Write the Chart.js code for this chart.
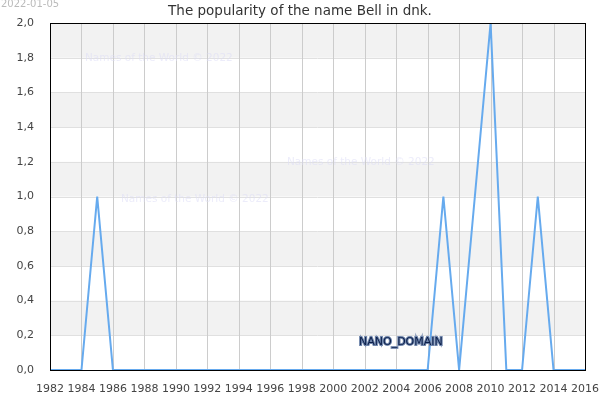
<!DOCTYPE html>
<html>
<head>
<meta charset="utf-8">
<script src="https://cdn.jsdelivr.net/npm/chart.js@4"></script>
<style>
  body { margin: 0; background: #fff; }
  #wrap { width: 600px; height: 400px; }
</style>
</head>
<body>
<div id="wrap"><canvas id="chart"></canvas></div>
<script>
// data
const years = [1982,1983,1984,1985,1986,1987,1988,1989,1990,1991,1992,1993,1994,1995,1996,1997,1998,1999,
               2000,2001,2002,2003,2004,2005,2006,2007,2008,2009,2010,2011,2012,2013,2014,2015,2016];
const counts = [0,0,0,1,0,0,0,0,0,0,0,0,0,0,0,0,0,0,
                0,0,0,0,0,0,0,1,0,1,2,0,0,1,0,0,0];
const titleText = "The popularity of the name Bell in dnk.";
const dateText = "2022-01-05";
const markText = "Names of the World © 2022";

let pts = [];
for (let i = 0; i < years.length; i++) {
    pts.push({x: years[i], y: counts[i]});
}

const decorations = {
    id: "decorations",
    beforeDatasetsDraw(chart) {
        // alternating bands + watermarks under the line
        const ctx = chart.ctx;
        const a = chart.chartArea;
        const ys = chart.scales.y;
        ctx.save();
        for (let v = 0; v < 2; v += 0.2) {
            const band = Math.round(v * 5) % 2;
            if (band == 1) {
                const t = ys.getPixelForValue(v + 0.2);
                const b = ys.getPixelForValue(v);
                ctx.fillStyle = "#f2f2f2";
                ctx.fillRect(a.left, t, a.right - a.left, b - t);
            }
        }
        // grid on top of bands
        ctx.strokeStyle = "#e0e0e0";
        ctx.lineWidth = 1;
        for (let v = 0.2; v < 2; v += 0.2) {
            const y = Math.round(ys.getPixelForValue(v)) + 0.5;
            ctx.beginPath(); ctx.moveTo(a.left, y); ctx.lineTo(a.right, y); ctx.stroke();
        }
        const xs = chart.scales.x;
        ctx.strokeStyle = "#cccccc";
        for (let yr = 1984; yr < 2016; yr += 2) {
            const x = Math.round(xs.getPixelForValue(yr)) + 0.5;
            ctx.beginPath(); ctx.moveTo(x, a.top); ctx.lineTo(x, a.bottom); ctx.stroke();
        }
        ctx.font = "10.5px 'DejaVu Sans'";
        ctx.fillStyle = "rgba(220,220,245,0.55)";
        ctx.textBaseline = "middle";
        ctx.textAlign = "left";
        ctx.fillText(markText, 85, 58);
        ctx.fillText(markText, 287, 162);
        ctx.fillText(markText, 121, 199);
        ctx.restore();
    },
    afterDraw(chart) {
        const ctx = chart.ctx;
        const a = chart.chartArea;
        ctx.save();
        ctx.strokeStyle = "#000";
        ctx.lineWidth = 1;
        ctx.strokeRect(Math.round(a.left) + 0.5, Math.round(a.top) + 0.5, Math.round(a.right - a.left), Math.round(a.bottom - a.top));
        ctx.font = "13.5px 'DejaVu Sans'";
        ctx.fillStyle = "#333";
        ctx.textAlign = "center";
        ctx.textBaseline = "middle";
        ctx.fillText(titleText, 300, 11);
        ctx.font = "10px 'DejaVu Sans'";
        ctx.fillStyle = "#bbb";
        ctx.textAlign = "left";
        ctx.fillText(dateText, 1, 4);
        ctx.font = "11px 'DejaVu Sans'";
        ctx.lineWidth = 2;
        ctx.strokeStyle = "#7086ac";
        ctx.strokeText("NANO_DOMAIN", 359, 342);
        ctx.fillStyle = "#0c1f4a";
        ctx.fillText("NANO_DOMAIN", 359, 342);
        ctx.restore();
    }
};

new Chart(document.getElementById("chart"), {
    type: "line",
    data: {
        datasets: [{
            data: pts,
            borderColor: "#66aaee",
            borderWidth: 2,
            pointRadius: 0,
            tension: 0,
            fill: false
        }]
    },
    options: {
        responsive: true,
        maintainAspectRatio: false,
        animation: false,
        layout: { padding: { top: 23, right: 15, left: 0, bottom: 0 } },
        plugins: { legend: { display: false }, title: { display: false }, tooltip: { enabled: false } },
        scales: {
            x: {
                type: "linear",
                min: 1982, max: 2016,
                afterFit: function(s) { s.height = 30; s.paddingLeft = 0; s.paddingRight = 0; },
                grid: { display: false },
                border: { display: false },
                ticks: {
                    stepSize: 2,
                    color: "#444",
                    font: { family: "DejaVu Sans", size: 11 },
                    maxRotation: 0,
                    autoSkip: false,
                    padding: 5,
                    callback: function(v) { return String(v); }
                }
            },
            y: {
                min: 0, max: 2,
                afterFit: function(s) { s.width = 50; s.paddingTop = 0; s.paddingBottom = 0; },
                grid: { display: false },
                border: { display: false },
                ticks: {
                    stepSize: 0.2,
                    color: "#444",
                    font: { family: "DejaVu Sans", size: 11 },
                    padding: 8,
                    callback: function(v) { return v.toFixed(1).replace(".", ","); }
                }
            }
        }
    },
    plugins: [decorations]
});
</script>
</body>
</html>
